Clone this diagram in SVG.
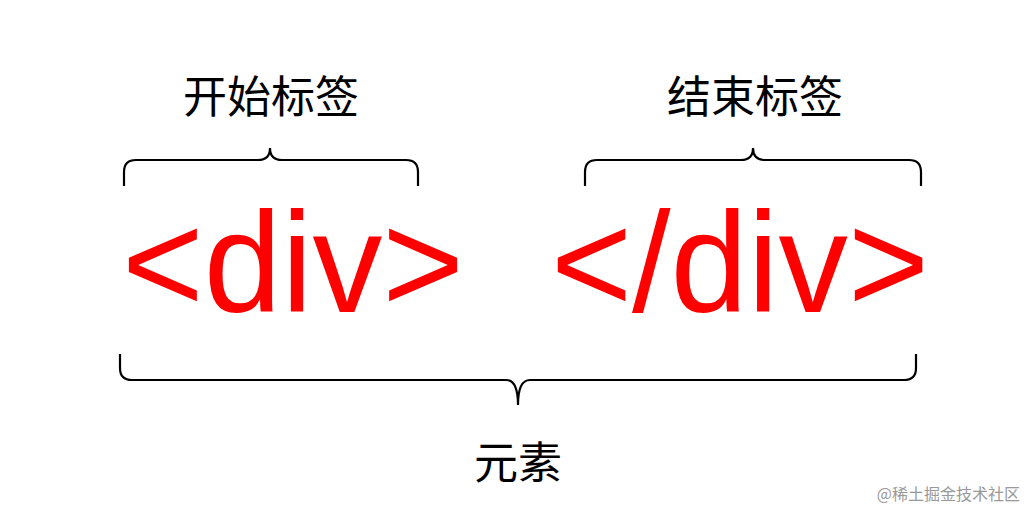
<svg xmlns="http://www.w3.org/2000/svg" width="1036" height="521" viewBox="0 0 1036 521">
<style>
.lbl{font-family:"Noto Sans CJK SC","Noto Sans CJK JP",sans-serif;font-size:44px;fill:#000;text-anchor:middle}
.tag{font-family:"Liberation Sans",Arial,sans-serif;font-size:142px;fill:#ff0000}
.br{fill:none;stroke:#000;stroke-width:2.2}
</style>
<rect width="1036" height="521" fill="#fff"/>
<g id="start-label"><text class="lbl" x="271" y="113">开始标签</text></g>
<g id="end-label"><text class="lbl" x="755" y="113">结束标签</text></g>
<g id="open-tag"><text class="tag" x="122" y="312" textLength="342" lengthAdjust="spacingAndGlyphs">&lt;div&gt;</text></g>
<g id="close-tag"><text class="tag" x="551" y="312" textLength="378" lengthAdjust="spacingAndGlyphs">&lt;/div&gt;</text></g>
<g id="element-label"><text class="lbl" x="518" y="479">元素</text></g>
<g id="connectors">
<path class="br" d="M124,186 V172 Q124,160 136,160 H258 Q270,160 270,148 Q270,160 282,160 H406 Q418,160 418,172 V186"/>
<path class="br" d="M585,186 V172 Q585,160 597,160 H741 Q753,160 753,148 Q753,160 765,160 H909 Q921,160 921,172 V186"/>
<path class="br" d="M120,354 V368 Q120,380 132,380 H506 Q518,380 518,405 Q518,380 530,380 H904 Q916,380 916,368 V354"/>
</g>
<text x="1020" y="500" text-anchor="end" style="font-family:'Noto Sans CJK SC',sans-serif;font-size:16px;fill:#999">@稀土掘金技术社区</text>
</svg>
